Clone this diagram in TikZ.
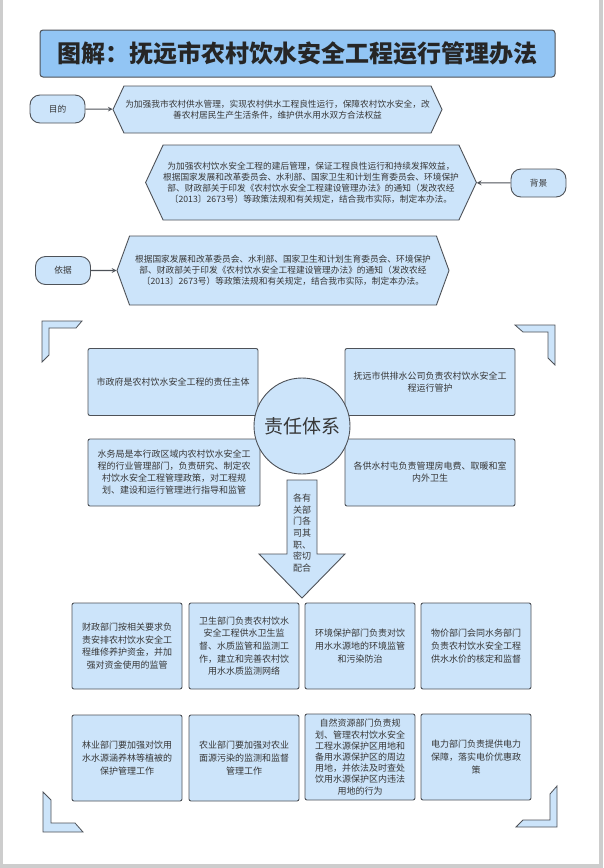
\documentclass[tikz,border=0pt]{standalone}
\usepackage{fontspec}
\setmainfont{Noto Sans CJK SC}
\usetikzlibrary{shapes.symbols}

\definecolor{boxblue}{RGB}{204,228,250}
\definecolor{titleblue}{RGB}{146,197,244}
\definecolor{edgegray}{RGB}{78,82,88}
\definecolor{inkgray}{RGB}{55,55,55}
\definecolor{pagegray}{RGB}{205,205,205}

\begin{document}
\begin{tikzpicture}[
    x=1pt, y=-1pt,
    >=stealth,
    every node/.style={font=\fontsize{8.7}{11}\selectfont, text=inkgray},
    hexa/.style={
        signal,
        signal to=west and east,
        signal pointer angle=130,
        draw=edgegray,
        fill=boxblue,
        line width=0.9pt,
        align=center,
        inner xsep=0pt
    },
    tag/.style={
        draw=edgegray,
        fill=boxblue,
        line width=0.9pt,
        rounded corners=10pt,
        minimum width=55pt,
        minimum height=28pt
    },
    duty/.style={
        draw=edgegray,
        fill=boxblue,
        line width=0.9pt,
        rounded corners=2pt,
        align=center,
        minimum width=170pt,
        minimum height=67pt,
        font=\fontsize{9}{12}\selectfont
    },
    dept/.style={
        draw=edgegray,
        fill=boxblue,
        line width=0.9pt,
        rounded corners=2pt,
        align=center,
        minimum width=110pt,
        minimum height=86pt,
        font=\fontsize{9}{12.7}\selectfont
    },
    corner/.style={draw=edgegray, fill=boxblue, line width=0.8pt},
    arr/.style={->, line width=1.1pt, draw=edgegray}
]

    % page
    \useasboundingbox (0,0) rectangle (603,868);
    \fill[pagegray] (0,0) rectangle (603,868);
    \fill[white] (3,0) rectangle (599,864);

    % title
    \node[
        draw=edgegray,
        fill=titleblue,
        line width=1pt,
        rounded corners=3pt,
        minimum width=515pt,
        minimum height=47pt,
        font=\fontsize{24}{27}\selectfont\bfseries,
        text=black!85
    ] (title) at (297.5,53.5) {图解：抚远市农村饮水安全工程运行管理办法};

    % aim
    \node[tag] (aim) at (57.5,109) {目的};
    \node[hexa, minimum width=329pt, minimum height=47pt] (aimtext) at (277.5,109.5)
        {为加强我市农村供水管理，实现农村供水工程良性运行，保障农村饮水安全，改\\
         善农村居民生产生活条件，维护供水用水双方合法权益};
    \draw[arr] (aim) -- (aimtext);

    % background
    \node[tag] (bg) at (538.5,183) {背景};
    \node[hexa, minimum width=328pt, minimum height=75pt] (bgtext) at (311,182.5)
        {为加强农村饮水安全工程的建后管理，保证工程良性运行和持续发挥效益，\\
         根据国家发展和改革委员会、水利部、国家卫生和计划生育委员会、环境保护\\
         部、财政部关于印发《农村饮水安全工程建设管理办法》的通知（发改农经\\
         〔2013〕2673号）等政策法规和有关规定，结合我市实际，制定本办法。};
    \draw[arr] (bg) -- (bgtext);

    % basis
    \node[tag] (basis) at (63,270.5) {依据};
    \node[hexa, signal pointer angle=140, minimum width=332pt, minimum height=69pt] (basistext) at (283,270.5)
        {根据国家发展和改革委员会、水利部、国家卫生和计划生育委员会、环境保护\\
         部、财政部关于印发《农村饮水安全工程建设管理办法》的通知（发改农经\\
         〔2013〕2673号）等政策法规和有关规定，结合我市实际，制定本办法。};
    \draw[arr] (basis) -- (basistext);

    % corner marks
    \filldraw[corner] (42,321) -- (82,321) -- (76,328) -- (49,328) -- (49,355) -- (42,362) -- cycle;
    \filldraw[corner] (515,325) -- (555,325) -- (555,365) -- (548,358) -- (548,332) -- (523,332) -- cycle;
    \filldraw[corner] (43,792) -- (51,800) -- (51,823) -- (75,823) -- (83,832) -- (43,832) -- cycle;
    \filldraw[corner] (557,786) -- (557,827) -- (516,827) -- (523,820) -- (550,820) -- (550,794) -- cycle;

    % responsibility system
    \node[duty] (duty1) at (173,382) {市政府是农村饮水安全工程的责任主体};
    \node[duty] (duty2) at (430,382) {抚远市供排水公司负责农村饮水安全工\\程运行管护};
    \node[duty, minimum width=172pt] (duty3) at (174,472.5)
        {水务局是本行政区域内农村饮水安全工\\程的行业管理部门，负责研究、制定农\\村饮水安全工程管理政策，对工程规\\划、建设和运行管理进行指导和监管};
    \node[duty] (duty4) at (430,472.5) {各供水村屯负责管理房电费、取暖和室\\内外卫生};
    \node[
        circle,
        draw=edgegray,
        fill=boxblue,
        line width=0.9pt,
        minimum size=96pt,
        font=\fontsize{19}{22}\selectfont
    ] (core) at (302,426) {责任体系};

    % block arrow down
    \filldraw[corner, line width=0.9pt] (287,480) -- (317,480) -- (317,554) -- (345,554)
        -- (302,598) -- (259,554) -- (287,554) -- cycle;
    \node[font=\fontsize{9}{11.7}\selectfont, align=center] (flow) at (302,533)
        {各有\\关部\\门各\\司其\\职、\\密切\\配合};

    % departments, first row
    \node[dept] (dept1) at (127,646) {财政部门按相关要求负\\责安排农村饮水安全工\\程维修养护资金，并加\\强对资金使用的监管};
    \node[dept] (dept2) at (244,646) {卫生部门负责农村饮水\\安全工程供水卫生监\\督、水质监管和监测工\\作，建立和完善农村饮\\用水水质监测网络};
    \node[dept] (dept3) at (360,646) {环境保护部门负责对饮\\用水水源地的环境监管\\和污染防治};
    \node[dept] (dept4) at (476,646) {物价部门会同水务部门\\负责农村饮水安全工程\\供水水价的核定和监督};

    % departments, second row
    \node[dept] (dept5) at (127,758) {林业部门要加强对饮用\\水水源涵养林等植被的\\保护管理工作};
    \node[dept] (dept6) at (244,758) {农业部门要加强对农业\\面源污染的监测和监督\\管理工作};
    \node[dept, font=\fontsize{9}{11.2}\selectfont, inner ysep=1pt] (dept7) at (360,757) {自然资源部门负责规\\划、管理农村饮水安全\\工程水源保护区用地和\\备用水源保护区的周边\\用地，并依法及时查处\\饮用水源保护区内违法\\用地的行为};
    \node[dept] (dept8) at (476,757) {电力部门负责提供电力\\保障，落实电价优惠政\\策};

\end{tikzpicture}
\end{document}
